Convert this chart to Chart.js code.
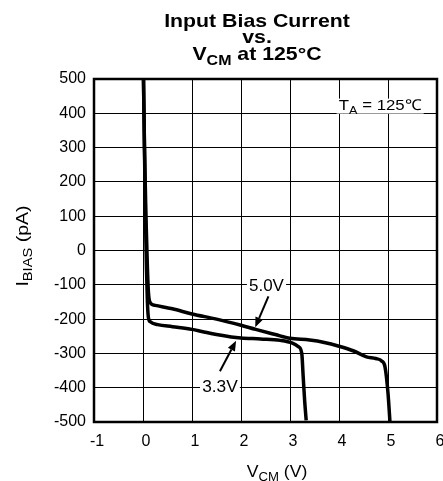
<!DOCTYPE html>
<html>
<head>
<meta charset="utf-8">
<script src="https://cdn.jsdelivr.net/npm/chart.js@4/dist/chart.umd.min.js"></script>
<style>
html,body{margin:0;padding:0;background:#fff;}
#c{display:block;}
</style>
</head>
<body>
<canvas id="c" width="443" height="481"></canvas>
<script>
// ---- data ----
const xTicks = [-1, 0, 1, 2, 3, 4, 5, 6];
const yTicks = [-500, -400, -300, -200, -100, 0, 100, 200, 300, 400, 500];

const v50x = [0.01, 0.03, 0.06, 0.09, 0.11, 0.14, 0.25, 0.6, 1.0, 1.5, 2.0, 2.3, 2.7, 3.0, 3.4, 3.7, 4.0, 4.3, 4.56, 4.75, 4.87, 4.94, 5.0, 5.04];
const v50y = [500, 300, 100, -50, -120, -150, -160, -170, -185, -200, -218, -230, -245, -256, -261, -268, -279, -293, -310, -315, -322, -340, -416, -500];

const v33x = [0.01, 0.03, 0.05, 0.07, 0.09, 0.11, 0.15, 0.3, 0.6, 1.0, 1.2, 1.5, 1.8, 2.0, 2.4, 2.8, 3.05, 3.17, 3.24, 3.27, 3.3, 3.33];
const v33y = [500, 300, 100, -50, -150, -195, -208, -216, -222, -230, -236, -245, -252, -255, -258, -262, -270, -280, -300, -370, -440, -495];

const seriesNames = ['5.0V', '3.3V'];

function pts(xs, ys) { return xs.map((x, i) => ({x: x, y: ys[i]})); }

const FONT = '"Liberation Sans", Arial, Helvetica, sans-serif';

// draw text with subscripts; parts: [{t, sub}]
function measureParts(ctx, parts, size, bold) {
  let w = 0;
  for (const p of parts) {
    const s = p.sub ? size * 0.75 : size;
    ctx.font = (bold ? 'bold ' : '') + s + 'px ' + FONT;
    w += ctx.measureText(p.t).width;
  }
  return w;
}
function drawParts(ctx, parts, cx, baseY, size, bold, sx, bg) {
  ctx.save();
  ctx.translate(cx, baseY);
  ctx.scale(sx, 1);
  const w = measureParts(ctx, parts, size, bold);
  if (bg) {
    ctx.fillStyle = '#fff';
    ctx.fillRect(-w / 2 - 2, -size * 0.78, w + 4, size * 1.0);
  }
  let x = -w / 2;
  ctx.fillStyle = '#000';
  ctx.textBaseline = 'alphabetic';
  ctx.textAlign = 'left';
  for (const p of parts) {
    const s = p.sub ? size * 0.75 : size;
    ctx.font = (bold ? 'bold ' : '') + s + 'px ' + FONT;
    ctx.fillText(p.t, x, p.sub ? size * 0.25 : 0);
    x += ctx.measureText(p.t).width;
  }
  ctx.restore();
}
function arrow(ctx, x1, y1, x2, y2) {
  const ang = Math.atan2(y2 - y1, x2 - x1);
  const hl = 10, hw = 4;
  const bx = x2 - hl * Math.cos(ang), by = y2 - hl * Math.sin(ang);
  ctx.save();
  ctx.strokeStyle = '#000';
  ctx.fillStyle = '#000';
  ctx.lineWidth = 2;
  ctx.beginPath();
  ctx.moveTo(x1, y1);
  ctx.lineTo(bx, by);
  ctx.stroke();
  ctx.beginPath();
  ctx.moveTo(x2, y2);
  ctx.lineTo(bx + hw * Math.sin(ang), by - hw * Math.cos(ang));
  ctx.lineTo(bx - hw * Math.sin(ang), by + hw * Math.cos(ang));
  ctx.closePath();
  ctx.fill();
  ctx.restore();
}

// annotation positions in data units
const label50 = {x: 2.52, y: -100};
const arrow50 = {x1: 2.56, y1: -134, x2: 2.29, y2: -224};
const label33 = {x: 1.57, y: -400};
const arrow33 = {x1: 1.57, y1: -352, x2: 1.9, y2: -263};
const labelTA = {x: 4.84, y: 400};

const deco = {
  id: 'deco',
  beforeDatasetsDraw(chart) {
    const {ctx, chartArea: a} = chart;
    ctx.save();
    ctx.strokeStyle = '#000';
    ctx.lineWidth = 2.5;
    ctx.strokeRect(a.left, a.top, a.right - a.left, a.bottom - a.top);
    ctx.restore();
  },
  afterDatasetsDraw(chart) {
    const {ctx} = chart;
    const xs = chart.scales.x, ys = chart.scales.y;
    const X = v => xs.getPixelForValue(v), Y = v => ys.getPixelForValue(v);
    drawParts(ctx, [{t: seriesNames[0]}], X(label50.x), Y(label50.y) + 6, 16, false, 1.06, true);
    arrow(ctx, X(arrow50.x1), Y(arrow50.y1), X(arrow50.x2), Y(arrow50.y2));
    drawParts(ctx, [{t: seriesNames[1]}], X(label33.x), Y(label33.y) + 4, 16, false, 1.08, true);
    arrow(ctx, X(arrow33.x1), Y(arrow33.y1), X(arrow33.x2), Y(arrow33.y2));
    drawParts(ctx, [{t: 'T'}, {t: 'A', sub: true}, {t: ' = 125\u2103'}], X(labelTA.x), Y(labelTA.y) - 3, 15, false, 1.12, true);
  },
  afterDraw(chart) {
    const {ctx} = chart;
    drawParts(ctx, [{t: 'Input Bias Current'}], 257, 27, 19, true, 1.12, false);
    drawParts(ctx, [{t: 'vs.'}], 257, 43, 19, true, 1.12, false);
    drawParts(ctx, [{t: 'V'}, {t: 'CM', sub: true}, {t: ' at 125\u00B0C'}], 257, 60, 19, true, 1.12, false);
    drawParts(ctx, [{t: 'V'}, {t: 'CM', sub: true}, {t: ' (V)'}], 277, 477, 16, false, 1.1, false);
    ctx.save();
    ctx.translate(27.5, 246);
    ctx.rotate(-Math.PI / 2);
    drawParts(ctx, [{t: 'I'}, {t: 'BIAS', sub: true}, {t: ' (pA)'}], 0, 0, 17, false, 1.15, false);
    ctx.restore();
  }
};

new Chart(document.getElementById('c'), {
  type: 'line',
  data: {
    datasets: [
      {label: seriesNames[0], data: pts(v50x, v50y), borderColor: '#000', borderWidth: 3.5, pointRadius: 0, tension: 0.3, cubicInterpolationMode: 'monotone', fill: false},
      {label: seriesNames[1], data: pts(v33x, v33y), borderColor: '#000', borderWidth: 3.5, pointRadius: 0, tension: 0.3, cubicInterpolationMode: 'monotone', fill: false}
    ]
  },
  options: {
    responsive: false,
    animation: false,
    devicePixelRatio: 1,
    layout: {padding: {top: 79, right: 6, left: 0, bottom: 0}},
    plugins: {legend: {display: false}, title: {display: false}, tooltip: {enabled: false}},
    scales: {
      x: {
        type: 'linear', min: -1, max: 6,
        afterBuildTicks: s => { s.ticks = xTicks.map(v => ({value: v})); },
        afterFit: s => { s.height = 59; s.paddingLeft = 0; s.paddingRight = 0; },
        grid: {color: '#000', lineWidth: 1, drawTicks: false},
        border: {display: false},
        ticks: {color: '#000', font: {family: FONT, size: 16}, padding: 10, labelOffset: 3, maxRotation: 0, autoSkip: false, callback: v => String(v)}
      },
      y: {
        type: 'linear', min: -500, max: 500,
        afterBuildTicks: s => { s.ticks = yTicks.map(v => ({value: v})); },
        afterFit: s => { s.width = 94; s.paddingTop = 0; s.paddingBottom = 0; },
        grid: {color: '#000', lineWidth: 1, drawTicks: false},
        border: {display: false},
        ticks: {color: '#000', font: {family: FONT, size: 16}, padding: 8, autoSkip: false, callback: v => String(v)}
      }
    }
  },
  plugins: [deco]
});
</script>
</body>
</html>
